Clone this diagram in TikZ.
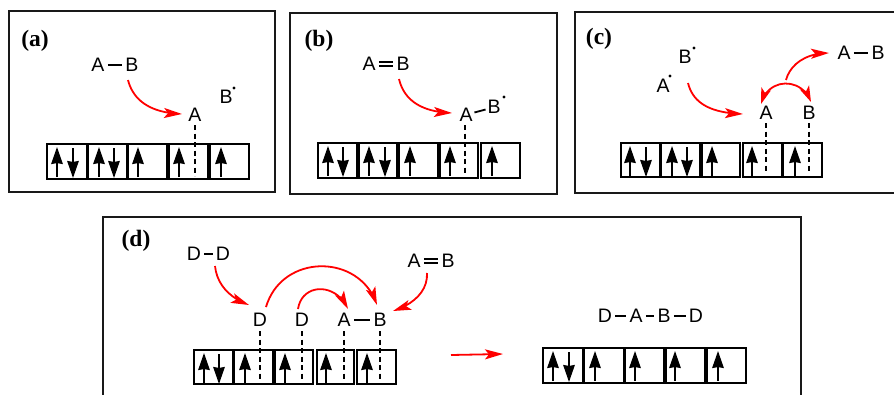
\documentclass[tikz,border=0pt]{standalone}
\usepackage{fontspec}
\setmainfont{Liberation Sans}
\newfontfamily\panelfont{Liberation Serif}
\usetikzlibrary{arrows.meta,bending}
\tikzset{
  frame/.style={draw=black!90,line width=1.7pt},
  cellbox/.style={draw=black,line width=1.9pt,anchor=north west,inner sep=0pt,outer sep=0pt},
  atom/.style={inner sep=0pt,outer sep=0pt,font=\fontsize{19.5}{22}\selectfont},
  tag/.style={inner sep=0pt,outer sep=0pt,font=\panelfont\bfseries\fontsize{23.5}{25}\selectfont},
  spin/.style={line width=1.8pt,-{Stealth[length=17pt,width=11.5pt,inset=1pt]}},
  dashline/.style={line width=1.7pt,dash pattern=on 5pt off 3.5pt},
  bond/.style={line width=1.8pt,shorten >=3.3pt,shorten <=3.3pt},
  dbond/.style={line width=1.6pt,double,double distance=2.8pt,shorten >=3.3pt,shorten <=3.3pt},
  redarrow/.style={red,line width=1.8pt,-{Stealth[length=18pt,width=10pt,inset=4pt,flex=0.4]}},
  redboth/.style={red,line width=1.8pt,{Stealth[length=16pt,width=10pt,inset=4pt,flex=0.4]}-{Stealth[length=16pt,width=10pt,inset=4pt,flex=0.4]}},
  radical/.style={circle,fill=black,inner sep=0pt,minimum size=3.4pt}
}
\newcommand{\cellat}[5]{\node[cellbox,minimum width={#3pt-#2pt},minimum height={#5pt-#4pt}] (#1) at (#2,#4) {};}
\newcommand{\spinup}[2]{\draw[spin] (#1,{#2+33}) -- (#1,{#2+3});}
\newcommand{\spindown}[2]{\draw[spin] (#1,{#2+4}) -- (#1,{#2+34});}
\begin{document}
\begin{tikzpicture}[x=1pt,y=-1pt]
\useasboundingbox (0,0) rectangle (894,394);
% frames
\draw[frame] (9,11) rectangle (275,192);
\draw[frame] (290,13) rectangle (557,194);
\draw[frame] (894.5,12) -- (575,12) -- (575,193) -- (894.5,193);
\draw[frame] (103,395) -- (103,217) -- (801,217) -- (801,395);
% panel tags
\node[tag] (ta) at (35,41) {(a)};
\node[tag] (tb) at (319,41) {(b)};
\node[tag] (tc) at (599,39) {(c)};
\node[tag] (td) at (136,241) {(d)};

% ---------- (a)
\cellat{a1}{47}{87}{144}{179}\cellat{a2}{88}{127}{144}{179}\cellat{a3}{128}{167}{144}{179}\cellat{a4}{169}{208}{144}{179}\cellat{a5}{210}{249}{144}{179}
\spinup{57}{144}\spindown{73}{144}\spinup{99}{144}\spindown{114}{144}\spinup{138}{144}\spinup{179}{144}\spinup{221}{144}
\node[atom] (aA1) at (98,65) {A};
\node[atom] (aB1) at (132,65) {B};
\draw[bond] (aA1.east) -- (aB1.west);
\node[atom] (aA2) at (195,115) {A};
\node[atom] (aB2) at (226,97) {B};
\node[radical] (aR) at (234,88) {};
\coordinate (aS) at (128,80);
\coordinate (aT) at (182,114);
\coordinate (aE) at (195,176);
\coordinate (aD) at (195,125);
\draw[redarrow] (aS) .. controls (133,100) and (150,113) .. (aT);
\draw[dashline] (aD) -- (aE);

% ---------- (b)
\cellat{b1}{318}{357}{143}{178}\cellat{b2}{359}{397}{143}{178}\cellat{b3}{399}{438}{143}{178}\cellat{b4}{440}{478}{143}{178}\cellat{b5}{481}{520}{143}{178}
\spinup{328}{143}\spindown{343}{143}\spinup{369}{143}\spindown{385}{143}\spinup{410}{143}\spinup{450}{143}\spinup{492}{143}
\node[atom] (bA1) at (369,64) {A};
\node[atom] (bB1) at (403,64) {B};
\draw[dbond] (bA1.east) -- (bB1.west);
\node[atom] (bA2) at (466,115) {A};
\node[atom] (bB2) at (494,107) {B};
\draw[bond] (bA2.east) ++(0,-2) coordinate (bL) (bB2.west) ++(0,2) coordinate (bM);
\draw[bond,shorten >=2pt,shorten <=2pt] (bL) -- (bM);
\node[radical] (bR) at (504,97) {};
\coordinate (bS) at (399,79);
\coordinate (bT) at (452,113);
\coordinate (bD) at (465,125);
\coordinate (bE) at (465,174);
\draw[redarrow] (bS) .. controls (404,100) and (421,112) .. (bT);
\draw[dashline] (bD) -- (bE);

% ---------- (c)
\cellat{c1}{621}{660}{143}{177}\cellat{c2}{661}{700}{143}{177}\cellat{c3}{702}{740}{143}{177}\cellat{c4}{743}{782}{143}{177}\cellat{c5}{783}{822}{143}{177}
\spinup{630}{143}\spindown{646}{143}\spinup{672}{143}\spindown{687}{143}\spinup{712}{143}\spinup{752}{143}\spinup{795}{143}
\node[atom] (cB0) at (685,57) {B};
\node[radical] (cR1) at (694,48) {};
\node[atom] (cA0) at (663,86) {A};
\node[radical] (cR2) at (670,76) {};
\node[atom] (cA1) at (766,113) {A};
\node[atom] (cB1) at (809,113) {B};
\node[atom] (cA2) at (844,53) {A};
\node[atom] (cB2) at (878,53) {B};
\draw[bond] (cA2.east) -- (cB2.west);
\coordinate (cS) at (688,83);
\coordinate (cT) at (743,114);
\coordinate (cL) at (761,104);
\coordinate (cR) at (811,102);
\coordinate (cU) at (786,80);
\coordinate (cV) at (829,53);
\coordinate (cD1) at (766,123);
\coordinate (cE1) at (766,173);
\coordinate (cD2) at (809,123);
\coordinate (cE2) at (809,173);
\draw[redarrow] (cS) .. controls (693,103) and (710,113) .. (cT);
\draw[redboth] (cL) .. controls (768,77) and (802,77) .. (cR);
\draw[redarrow] (cU) .. controls (790,65) and (805,53) .. (cV);
\draw[dashline] (cD1) -- (cE1);
\draw[dashline] (cD2) -- (cE2);

% ---------- (d) left
\cellat{d1}{194}{233}{350}{384}\cellat{d2}{234}{273}{350}{384}\cellat{d3}{275}{313}{350}{384}\cellat{d4}{317}{354}{350}{384}\cellat{d5}{357}{396}{350}{384}
\spinup{204}{350}\spindown{219}{350}\spinup{245}{350}\spinup{285}{350}\spinup{326}{350}\spinup{367}{350}
\node[atom] (dD1) at (194,254) {D};
\node[atom] (dD2) at (223,254) {D};
\draw[bond] (dD1.east) -- (dD2.west);
\node[atom] (dA1) at (414,261) {A};
\node[atom] (dB1) at (448,261) {B};
\draw[dbond] (dA1.east) -- (dB1.west);
\node[atom] (dD3) at (260,320) {D};
\node[atom] (dD4) at (302,320) {D};
\node[atom] (dA2) at (344,320) {A};
\node[atom] (dB2) at (380,320) {B};
\draw[bond] (dA2.east) -- (dB2.west);
\coordinate (dS1) at (215,266);
\coordinate (dT1) at (249,305);
\coordinate (dS2) at (427,273);
\coordinate (dT2) at (393,311);
\coordinate (dS3) at (266,307);
\coordinate (dT3) at (377,305);
\coordinate (dS4) at (298,309);
\coordinate (dT4) at (348,309);
\draw[redarrow] (dS1) .. controls (217,285) and (230,298) .. (dT1);
\draw[redarrow] (dS2) .. controls (428,292) and (412,305) .. (dT2);
\draw[redarrow] (dS3) .. controls (282,253) and (360,253) .. (dT3);
\draw[redarrow] (dS4) .. controls (302,283) and (336,282) .. (dT4);
\foreach \n/\x in {1/260,2/302,3/344,4/380}{
  \coordinate (dU\n) at (\x,331);
  \coordinate (dV\n) at (\x,380);
  \draw[dashline] (dU\n) -- (dV\n);
}
\coordinate (dP) at (451,355);
\coordinate (dQ) at (503,354);
\draw[redarrow] (dP) -- (dQ);

% ---------- (d) right
\cellat{e1}{543}{583}{348}{383}\cellat{e2}{584}{624}{348}{383}\cellat{e3}{625}{664}{348}{383}\cellat{e4}{666}{705}{348}{383}\cellat{e5}{707}{746}{348}{383}
\spinup{553}{348}\spindown{569}{348}\spinup{595}{348}\spinup{635}{348}\spinup{675}{348}\spinup{718}{348}
\node[atom] (eD1) at (605,316) {D};
\node[atom] (eA) at (636,316) {A};
\node[atom] (eB) at (664,316) {B};
\node[atom] (eD2) at (696,316) {D};
\draw[bond] (eD1.east) -- (eA.west);
\draw[bond] (eA.east) -- (eB.west);
\draw[bond] (eB.east) -- (eD2.west);
\end{tikzpicture}
\end{document}
